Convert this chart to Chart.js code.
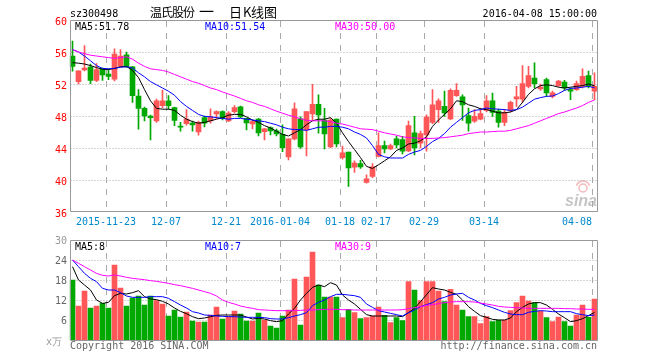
<!DOCTYPE html>
<html><head><meta charset="utf-8">
<script src="https://cdn.jsdelivr.net/npm/chart.js@4.4.0/dist/chart.umd.min.js"></script>
<style>
html,body{margin:0;padding:0;background:#fff;width:660px;height:360px;overflow:hidden}
#wrap{position:relative;width:660px;height:360px}
canvas{position:absolute;left:0}
#c1{top:0}
#c2{top:232px}
</style></head><body><div id="wrap"><canvas id="c1" width="660" height="232"></canvas><canvas id="c2" width="660" height="128"></canvas></div>
<script>
const dates = ['2015-11-13','2015-11-16','2015-11-17','2015-11-18','2015-11-19','2015-11-20','2015-11-23','2015-11-24','2015-11-25','2015-11-26','2015-11-27','2015-11-30','2015-12-01','2015-12-02','2015-12-03','2015-12-04','2015-12-07','2015-12-08','2015-12-09','2015-12-10','2015-12-11','2015-12-14','2015-12-15','2015-12-16','2015-12-17','2015-12-18','2015-12-21','2015-12-22','2015-12-23','2015-12-24','2015-12-25','2015-12-28','2015-12-29','2015-12-30','2015-12-31','2016-01-04','2016-01-05','2016-01-06','2016-01-07','2016-01-08','2016-01-11','2016-01-12','2016-01-13','2016-01-14','2016-01-15','2016-01-18','2016-01-19','2016-01-20','2016-01-21','2016-01-22','2016-01-25','2016-02-17','2016-02-18','2016-02-19','2016-02-22','2016-02-23','2016-02-24','2016-02-25','2016-02-26','2016-02-29','2016-03-01','2016-03-02','2016-03-03','2016-03-04','2016-03-07','2016-03-08','2016-03-09','2016-03-10','2016-03-11','2016-03-14','2016-03-15','2016-03-16','2016-03-17','2016-03-18','2016-03-21','2016-03-22','2016-03-23','2016-03-24','2016-03-25','2016-03-28','2016-03-29','2016-03-30','2016-03-31','2016-04-01','2016-04-05','2016-04-06','2016-04-07','2016-04-08'];
const openP  = [55.5,52.3,53.75,54.1,52.45,53.95,53.25,52.6,54.2,55.65,54.15,50.5,48.95,48.0,47.4,49.3,49.9,49.05,46.7,47.05,47.1,46.0,47.8,47.4,48.25,48.55,47.4,48.55,49.15,47.7,47.0,47.6,46.05,46.55,46.15,45.7,42.9,45.15,47.65,46.25,48.25,49.45,47.5,44.15,47.6,42.8,43.5,41.6,42.05,39.7,40.45,42.95,44.3,43.9,45.15,45.05,43.65,45.9,44.6,45.65,47.2,48.8,49.2,47.65,50.55,50.4,48.05,47.35,47.6,48.7,49.9,48.6,47.2,48.7,50.15,50.1,51.7,52.75,51.4,52.55,50.45,51.8,52.25,51.3,51.3,51.7,53.05,51.1];
const highP  = [57.35,53.65,56.8,54.5,54.55,54.0,53.9,56.4,56.3,56.0,54.2,51.3,49.1,48.1,50.1,51.25,50.55,49.1,47.2,48.8,47.35,47.35,48.0,48.9,48.65,48.65,48.55,49.3,49.25,47.75,47.5,47.7,46.45,46.65,46.35,46.9,45.15,49.65,47.9,48.55,51.95,50.65,48.95,47.7,47.6,44.25,43.5,42.4,42.45,40.65,42.05,45.9,44.85,44.5,45.45,45.45,47.35,47.95,46.1,48.15,51.3,50.15,51.1,51.4,52.05,50.65,49.0,48.8,49.0,50.55,50.85,48.85,48.8,49.85,51.7,54.3,54.2,54.65,52.0,52.75,51.1,52.45,52.45,51.5,52.35,53.9,53.6,53.4];
const lowP   = [53.6,52.0,53.65,52.05,52.3,52.45,52.55,52.4,54.1,54.1,49.7,46.35,47.4,45.0,47.2,49.0,48.85,46.8,46.1,46.85,46.1,45.6,46.65,47.1,47.7,47.5,47.3,48.35,47.8,46.25,46.4,45.5,45.0,45.65,45.5,43.55,42.5,45.0,43.95,43.0,47.5,45.85,43.9,44.05,44.15,42.6,39.2,40.95,41.45,39.6,40.3,42.9,43.4,43.8,44.0,43.25,43.55,43.15,44.0,43.6,47.05,47.2,47.95,47.55,50.45,47.45,46.1,47.2,47.5,48.5,47.95,46.6,46.8,48.5,49.2,49.7,51.5,51.5,51.2,50.45,50.25,51.7,51.2,50.05,51.2,51.5,51.5,50.05];
const closeP = [54.2,53.65,54.0,52.45,53.8,53.15,52.95,55.75,55.5,54.15,50.55,48.95,48.0,47.8,49.9,49.9,49.3,47.45,46.6,47.6,46.9,47.2,47.1,47.9,48.55,47.7,48.35,49.05,47.9,47.15,47.3,45.9,46.4,46.15,45.75,44.05,45.15,48.9,44.15,48.55,49.45,48.15,45.75,47.5,44.5,43.4,41.5,42.1,41.65,40.15,41.65,44.3,43.9,44.3,44.4,43.6,46.8,44.0,45.8,47.85,49.4,49.9,48.4,51.2,51.2,49.4,47.1,47.95,48.3,49.9,48.45,47.2,48.45,49.7,50.4,52.05,53.05,52.05,51.6,50.9,50.9,52.35,51.5,51.1,52.05,52.95,51.7,51.7];
const ma5  = [54.67,54.6,54.5,54.3,54.05,53.85,53.8,53.95,54.15,54.2,53.7,52.8,51.3,49.9,48.95,48.85,48.85,48.7,48.1,47.6,47.3,47.1,47.2,47.4,47.6,47.8,48.1,48.2,48.2,47.9,47.5,47.2,46.8,46.5,46.1,45.7,45.5,45.9,46.3,46.9,47.4,47.6,47.6,47.8,47.1,45.9,44.8,43.8,42.8,41.7,41.45,41.9,42.4,42.9,43.7,44.0,44.5,44.6,44.9,45.4,46.7,47.5,48.2,48.9,49.9,49.8,49.4,49.2,48.9,48.8,48.6,48.4,48.4,48.5,48.8,49.7,50.7,51.4,51.8,51.9,51.8,51.6,51.5,51.6,51.7,51.8,52.0,51.78];
const ma10 = [56.3,56.0,55.5,54.9,54.3,53.95,53.9,53.95,54.1,54.15,54.0,53.4,52.9,52.3,51.9,51.5,51.1,50.6,49.8,49.2,48.7,48.2,47.95,47.9,47.8,47.7,47.6,47.7,47.7,47.6,47.5,47.4,47.3,47.1,46.9,46.6,46.4,46.3,46.3,46.2,46.4,46.6,46.6,46.7,46.7,46.6,46.4,46.0,45.7,45.25,44.3,43.2,42.9,42.75,42.75,42.75,43.2,43.5,43.7,44.2,44.8,45.2,45.8,46.6,47.2,47.8,48.4,48.7,48.8,49.0,48.9,48.85,48.8,48.7,48.8,49.1,49.6,50.1,50.3,50.45,50.5,50.8,51.2,51.45,51.5,51.6,51.7,51.54];
const ma30 = [56.3,56.0,55.8,55.6,55.5,55.4,55.3,55.2,55.3,55.4,55.1,54.6,54.2,53.9,53.8,53.7,53.5,53.2,52.9,52.6,52.3,52.1,51.8,51.5,51.3,51.0,50.75,50.5,50.2,49.9,49.7,49.4,49.2,48.9,48.6,48.35,48.1,47.9,47.65,47.45,47.4,47.4,47.4,47.3,47.1,47.0,46.8,46.6,46.4,46.35,46.3,46.1,45.9,45.75,45.6,45.4,45.3,45.25,45.2,45.2,45.2,45.25,45.3,45.4,45.5,45.6,45.8,45.9,46.0,46.0,46.05,46.1,46.1,46.2,46.4,46.6,46.8,47.1,47.4,47.7,48.0,48.3,48.5,48.75,49.0,49.3,49.7,50.0];
const volume = [18.0,10.2,14.7,9.6,10.2,11.0,9.6,22.5,15.6,10.2,12.6,13.2,10.5,13.2,11.8,10.8,7.2,9.0,6.9,8.4,5.7,5.4,5.4,7.5,9.9,6.3,7.1,8.7,7.8,5.7,5.7,8.1,6.0,4.2,3.6,7.2,9.0,18.3,4.5,18.9,26.4,16.5,12.9,12.9,12.9,6.7,9.2,8.2,6.4,6.7,7.2,9.9,7.4,5.2,6.7,5.8,17.5,15.0,11.8,17.5,17.5,14.7,11.5,15.2,10.5,9.0,7.0,7.0,4.9,7.0,5.5,6.0,6.0,8.8,11.2,13.2,11.7,11.2,8.7,6.7,5.5,6.9,5.5,4.2,7.5,10.5,6.8,12.3];
const vma5  = [22.0,18.0,16.5,15.0,12.0,11.0,11.3,13.3,14.0,13.8,14.2,14.8,13.0,12.3,12.1,11.6,10.8,9.6,8.6,7.9,7.0,6.4,6.6,7.0,7.4,7.5,7.5,7.5,7.5,6.9,6.3,6.5,6.3,5.8,5.5,5.8,7.8,9.5,12.0,14.0,15.8,16.5,16.0,17.2,16.5,13.5,12.0,10.8,9.2,7.6,7.2,7.2,7.2,7.2,7.2,7.0,8.2,9.5,11.5,13.6,15.7,15.3,15.0,14.3,13.7,12.0,10.0,8.6,7.3,6.8,6.2,6.0,6.0,6.6,8.5,9.8,10.8,11.2,11.2,10.5,9.2,7.8,6.7,5.5,5.8,6.4,7.3,8.3];
const vma10 = [24.0,22.0,20.0,18.5,17.5,15.5,15.0,15.0,14.2,13.2,12.8,12.8,12.8,13.0,13.0,13.0,12.5,11.5,10.5,9.6,8.5,8.1,7.5,7.4,7.2,7.1,7.0,7.0,6.9,6.8,6.8,6.8,6.7,6.4,6.3,6.3,6.7,7.2,7.6,8.2,10.3,11.3,12.0,13.0,13.7,13.7,13.5,13.3,12.8,10.8,9.8,8.8,8.4,8.0,7.6,7.2,8.2,9.0,10.0,10.6,11.2,12.3,12.8,13.5,13.8,14.0,12.8,12.0,11.0,10.3,9.7,9.0,8.3,7.8,7.6,7.6,8.3,8.6,8.8,8.7,8.5,8.5,8.5,8.5,7.9,7.6,7.3,7.5];
const vma30 = [24.0,23.0,22.0,21.0,20.0,19.4,19.2,19.5,19.2,18.8,18.5,18.3,18.1,17.8,17.6,17.3,17.0,16.6,16.3,15.9,15.5,15.0,14.5,14.0,13.2,12.0,11.3,10.8,10.2,9.8,9.5,9.1,9.0,8.9,8.8,8.8,8.8,8.8,8.9,9.0,9.0,9.1,9.2,9.2,9.2,9.1,9.1,9.0,9.0,9.0,9.0,9.0,9.0,9.0,9.0,9.1,9.4,9.7,10.0,10.4,10.6,10.9,11.2,11.4,11.5,11.5,11.5,11.4,11.1,10.8,10.5,10.1,9.9,9.8,9.7,9.6,9.5,9.5,9.5,9.5,9.5,9.5,9.4,9.4,9.3,9.3,9.2,9.2];
const priceTicks = [36,40,44,48,52,56,60];
const volTicks = [6,12,18,24,30];
const volTickLabels = ['6','12','18','24','30'];
const tickDates = ['2015-11-23','2015-12-07','2015-12-21','2016-01-04','2016-01-18','2016-02-17','2016-02-29','2016-03-14','2016-04-08'];
const tickLabels = ['2015-11-23','12-07','12-21','2016-01-04','01-18','02-17','02-29','03-14','04-08'];
const legendPrice = ['MA5:51.78','MA10:51.54','MA30:50.00'];
const legendVol = ['MA5:8','MA10:7','MA30:9'];
const titleChars = ['温','氏','股','份','一','日','K','线','图'];

const RED = '#ff5757', GREEN = '#00a800';
const MONO = '10px "DejaVu Sans Mono", "Liberation Mono", monospace';
const candleColors = openP.map((o,i)=> closeP[i] >= o ? RED : GREEN);
const tickIdx = tickDates.map(d => dates.indexOf(d));

function gridAndFrame(chart, yVals, bottomPix){
  const {ctx, scales:{x,y}} = chart;
  const L = 70.5, R = 597.5;
  ctx.save();
  ctx.lineWidth = 1;
  ctx.strokeStyle = '#aaaaaa';
  ctx.setLineDash([1,2]);
  yVals.forEach(v=>{
    if (v === y.min || v === y.max) return;
    const py = Math.round(y.getPixelForValue(v)) + 0.5;
    ctx.beginPath(); ctx.moveTo(L, py); ctx.lineTo(R, py); ctx.stroke();
  });
  ctx.setLineDash([6,6]);
  const top = Math.round(y.getPixelForValue(y.max));
  tickIdx.forEach(i=>{
    const px = Math.round(x.getPixelForValue(i) - 2.5) + 0.5;
    ctx.beginPath(); ctx.moveTo(px, top+1); ctx.lineTo(px, bottomPix); ctx.stroke();
  });
  ctx.restore();
}
function frame(chart, bottomPix){
  const {ctx, scales:{y}} = chart;
  const top = Math.round(y.getPixelForValue(y.max)) + 0.5;
  ctx.save();
  ctx.strokeStyle = '#999999'; ctx.lineWidth = 1; ctx.setLineDash([]);
  ctx.beginPath();
  ctx.moveTo(70.5, top); ctx.lineTo(597.5, top); ctx.lineTo(597.5, bottomPix+0.5);
  ctx.lineTo(70.5, bottomPix+0.5); ctx.closePath(); ctx.stroke();
  ctx.restore();
}

const mainPlugin = {
  id:'mainDeco',
  beforeDatasetsDraw(chart){ gridAndFrame(chart, priceTicks, 211); },
  afterDraw(chart){
    const {ctx, scales:{x,y}} = chart;
    frame(chart, 211);
    ctx.save();
    ctx.font = MONO; ctx.textBaseline = 'alphabetic';
    ctx.fillStyle = '#ff0000'; ctx.textAlign = 'right';
    priceTicks.forEach(v=>{ ctx.fillText(String(v), 67, y.getPixelForValue(v) + 5); });
    ctx.fillStyle = '#0088cc';
    tickIdx.forEach((i,k)=>{
      const px = Math.round(x.getPixelForValue(i) - 2.5);
      ctx.textAlign = (k === tickIdx.length-1) ? 'right' : 'center';
      ctx.fillText(tickLabels[k], px, 225);
    });
    ctx.fillStyle = '#000'; ctx.textAlign='left';
    ctx.fillText('sz300498', 70, 17);
    ctx.textAlign='right';
    ctx.fillText('2016-04-08 15:00:00', 597, 17);
    ctx.textAlign='left';
    ctx.fillStyle='#000000'; ctx.fillText(legendPrice[0], 75, 30);
    ctx.fillStyle='#0000ff'; ctx.fillText(legendPrice[1], 205, 30);
    ctx.fillStyle='#ff00ff'; ctx.fillText(legendPrice[2], 335, 30);
    // title, glyph by glyph
    ctx.fillStyle='#000';
    const tx = [150, 161, 172, 183, 199, 229, 243, 251, 264];
    const ts = [12, 12, 12, 12, 15, 13, 13, 13, 13];
    titleChars.forEach((c,k)=>{
      ctx.font = ts[k] + 'px "Noto Sans CJK SC"';
      ctx.fillText(c, tx[k], 17);
    });
    // watermark
    ctx.fillStyle = 'rgba(150,150,150,0.55)';
    ctx.font = 'italic bold 16px "Liberation Sans", Arial, sans-serif';
    ctx.fillText('sina', 565, 206);
    ctx.strokeStyle = 'rgba(230,120,120,0.5)'; ctx.lineWidth = 1.5;
    ctx.beginPath(); ctx.arc(583, 188, 4, 0, Math.PI*2); ctx.stroke();
    ctx.beginPath(); ctx.arc(583, 188, 7, Math.PI*1.1, Math.PI*1.9); ctx.stroke();
    ctx.restore();
  }
};

const volPlugin = {
  id:'volDeco',
  beforeDatasetsDraw(chart){ gridAndFrame(chart, volTicks, 108); },
  afterDraw(chart){
    const {ctx, scales:{y}} = chart;
    frame(chart, 108);
    ctx.save();
    ctx.font = MONO; ctx.textBaseline='alphabetic';
    ctx.textAlign='right';
    volTicks.forEach((v,k)=>{
      ctx.fillStyle = v === 30 ? '#999999' : '#666666';
      ctx.fillText(volTickLabels[k], 67, y.getPixelForValue(v) + 4);
    });
    ctx.fillStyle = '#999999';
    ctx.fillText('x万', 62, y.getPixelForValue(0) + 5);
    ctx.textAlign='left';
    ctx.fillStyle='#000000'; ctx.fillText(legendVol[0], 75, 18);
    ctx.fillStyle='#0000ff'; ctx.fillText(legendVol[1], 205, 18);
    ctx.fillStyle='#ff00ff'; ctx.fillText(legendVol[2], 335, 18);
    ctx.fillStyle='#666666';
    ctx.fillText('Copyright 2016 SINA.COM', 70, 117);
    ctx.textAlign='right';
    ctx.fillText('http://finance.sina.com.cn', 597, 117);
    ctx.restore();
  }
};

function lineDS(data, color){
  return {type:'line', data, borderColor:color, borderWidth:1, pointRadius:0, fill:false, tension:0, order:0};
}

new Chart(document.getElementById('c1'), {
  type:'bar',
  data:{
    labels: dates,
    datasets:[
      {type:'bar', data: lowP.map((l,i)=>[l, highP[i]]), backgroundColor: candleColors, barThickness:1, grouped:false, order:3},
      {type:'bar', data: openP.map((o,i)=>[o, closeP[i]]), backgroundColor: candleColors, barThickness:5, minBarLength:1, grouped:false, order:2},
      lineDS(ma30,'#ff00ff'),
      lineDS(ma10,'#0000ff'),
      lineDS(ma5,'#000000')
    ]
  },
  options:{
    responsive:false, devicePixelRatio:1, animation:false,
    layout:{padding:{left:69.5, right:62.5, top:20, bottom:20}},
    plugins:{legend:{display:false}, tooltip:{enabled:false}},
    scales:{
      x:{type:'category', display:false, offset:true},
      y:{type:'linear', display:false, min:36, max:60}
    }
  },
  plugins:[mainPlugin]
});

new Chart(document.getElementById('c2'), {
  type:'bar',
  data:{
    labels: dates,
    datasets:[
      {type:'bar', data: volume, backgroundColor: candleColors, barThickness:5, grouped:false, order:2},
      lineDS(vma30,'#ff00ff'),
      lineDS(vma10,'#0000ff'),
      lineDS(vma5,'#000000')
    ]
  },
  options:{
    responsive:false, devicePixelRatio:1, animation:false,
    layout:{padding:{left:69.5, right:62.5, top:8, bottom:20}},
    plugins:{legend:{display:false}, tooltip:{enabled:false}},
    scales:{
      x:{type:'category', display:false, offset:true},
      y:{type:'linear', display:false, min:0, max:30}
    }
  },
  plugins:[volPlugin]
});
</script></body></html>
